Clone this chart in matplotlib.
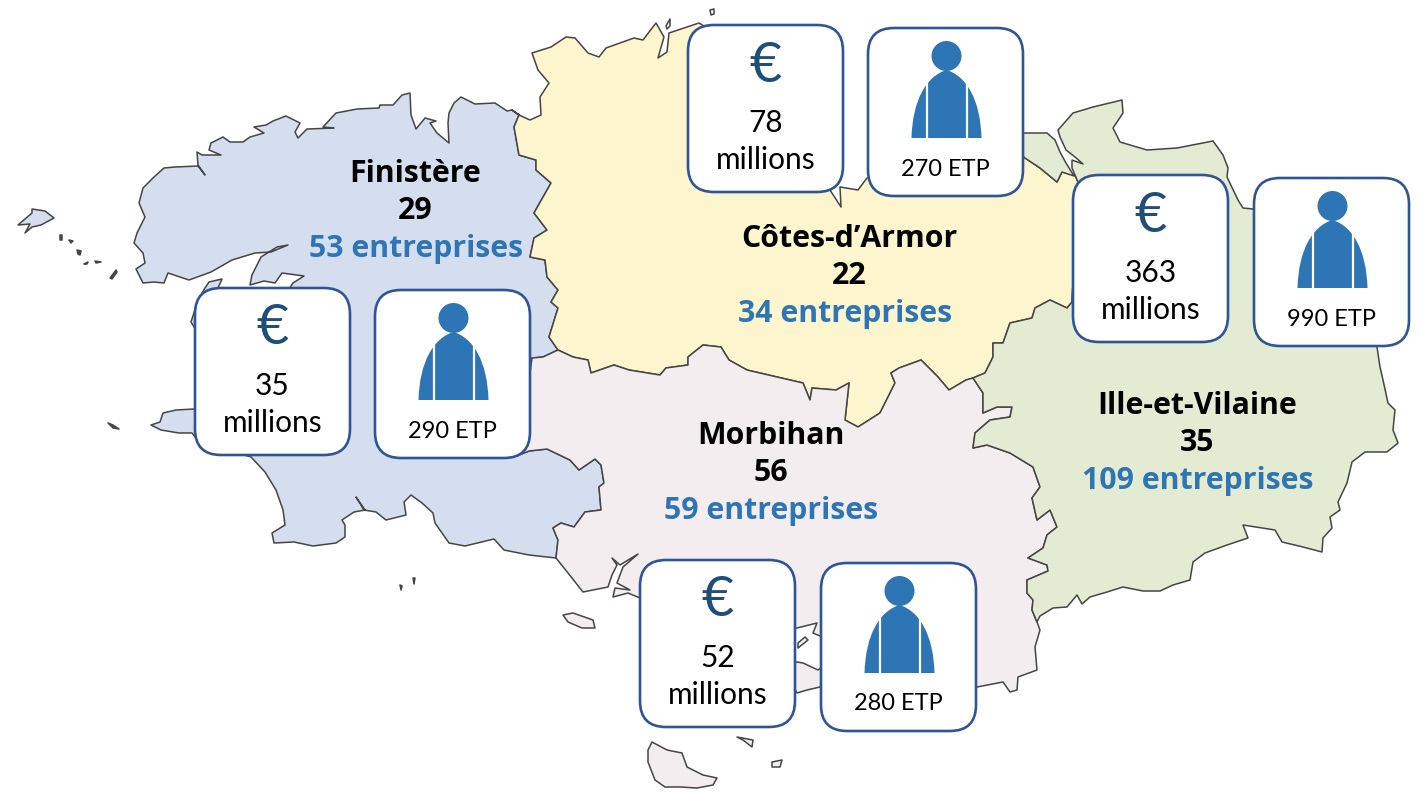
#!/usr/bin/env python3
import matplotlib
matplotlib.use("Agg")
import matplotlib.pyplot as plt
from matplotlib.patches import FancyBboxPatch, Circle, PathPatch
from matplotlib.path import Path

# -------------------------------
# Data
# -------------------------------
departments = ["Finistère", "Côtes-d’Armor", "Morbihan", "Ille-et-Vilaine"]
dept_codes = ["29", "22", "56", "35"]
companies = ["53 entreprises", "34 entreprises", "59 entreprises", "109 entreprises"]
euro_values = ["35", "78", "52", "363"]
etp_values = ["290 ETP", "270 ETP", "280 ETP", "990 ETP"]

# map outlines (pixel coordinates)
fin_coast = [(512,110),(507,111),(495,103),(475,104),(461,97),(454,103),(449,113),(448,123),(449,143),
    (437,133),(430,123),(436,121),(425,118),(416,129),(411,115),(410,93),(402,95),(393,105),(380,105),
    (379,108),(357,109),(336,113),(323,127),(334,128),(307,129),(298,138),(295,132),(300,123),(286,116),
    (273,121),(266,125),(254,127),(264,133),(250,137),(243,142),(230,142),(223,137),(211,143),(209,150),
    (221,155),(202,155),(197,152),(198,165),(205,175),(198,166),(175,167),(164,168),(154,177),(143,188),
    (139,203),(145,217),(137,233),(134,243),(143,253),(145,263),(136,269),(143,283),(154,282),(164,283),
    (168,273),(189,280),(211,272),(232,260),(255,253),(271,252),(288,245),(277,247),(261,257),(252,275),
    (250,285),(264,281),(275,283),(282,273),(304,276),(293,283),(285,295),(225,295),(218,288),(222,279),
    (209,282),(205,288),(198,300),(191,322),(205,345),(205,400),(194,409),(176,410),(163,413),(160,422),
    (151,425),(161,430),(179,433),(192,433),(195,437),(210,445),(251,457),(265,472),(276,490),(283,510),
    (285,525),(272,533),(274,543),(294,542),(313,546),(336,543),(345,537),(345,525),(342,520),(354,512),
    (365,510),(356,497),(364,510),(376,512),(386,520),(406,515),(404,502),(411,495),(422,503),(433,513),
    (435,523),(449,543),(465,546),(494,539),(504,550),(529,555),(556,558)]
fin_mor = [(556,558),(558,540),(553,528),(561,523),(574,527),(585,512),(601,510),(599,487),(604,483),
    (601,465),(595,459),(579,470),(570,460),(547,449),(529,451),(519,455),(532,358),(543,357),(558,350)]
fin_cot = [(558,350),(549,337),(558,308),(551,302),(558,290),(547,277),(545,260),(530,257),(534,238),
    (547,230),(534,213),(551,183),(536,170),(536,160),(519,155),(514,127),(519,115),(512,110)]
cot_coast = [(512,110),(519,115),(530,120),(541,115),(540,97),(549,83),(538,70),(532,53),(551,47),(566,37),
    (575,38),(588,53),(599,57),(606,48),(634,38),(643,40),(656,23),(664,37),(658,58),(667,52),(669,33),
    (699,23),(760,60),(830,190),(841,207),(840,187),(858,190),(867,178),(950,150),(1015,150),(1025,158),
    (1040,168),(1057,182),(1062,172),(1075,175),(1078,182)]
cot_ille = [(1078,182),(1072,302),(1067,308),(1050,300),(1035,308),(1032,318),(1010,323),(1003,343),
    (993,343),(993,357),(985,373),(973,378)]
cot_mor = [(558,350),(573,357),(588,360),(591,373),(614,365),(629,370),(660,375),(666,368),(688,365),
    (688,357),(703,345),(721,347),(729,360),(747,370),(777,377),(803,383),(810,400),(812,388),(836,390),
    (849,383),(845,420),(858,427),(880,413),(895,383),(891,373),(899,368),(921,360),(938,377),(949,390),
    (966,380),(973,378)]
ille_coast = [(1078,182),(1072,168),(1072,160),(1083,164),(1075,157),(1066,150),(1060,137),(1058,130),
    (1073,113),(1093,107),(1122,100),
    (1123,113),(1113,128),(1120,142),(1147,150),(1177,148),(1213,141),(1223,155),(1228,168),(1227,177),
    (1238,200),(1243,208),(1253,209),(1300,260),(1377,347),(1380,367),(1383,380),(1388,403),(1395,410),
    (1393,430),(1398,443),(1387,452),(1365,452),(1352,462),(1347,483),(1338,502),(1340,510),(1330,517),
    (1332,528),(1323,538),(1322,552),(1303,547),(1282,542),(1275,530),(1243,525),(1248,538),(1227,545),
    (1205,553),(1193,562),(1190,580),(1173,585),(1160,591),(1143,591),(1123,587),(1107,592),(1090,597),
    (1082,604),(1077,595),(1067,607),(1053,608),(1040,616),(1037,622)]
ille_mor = [(1037,622),(1032,610),(1033,600),(1027,593),(1027,580),(1048,571),(1047,565),(1028,558),
    (1043,548),(1047,535),(1057,527),(1050,510),(1037,520),(1032,498),(1040,487),(1033,467),(1010,453),
    (987,445),(973,448),(975,433),(990,420),(1010,417),(1012,407),(997,407),(983,413),(983,393),(973,378)]
mor_coast = [(1037,622),(1040,630),(1035,647),(1037,670),(1018,677),(1017,690),(1010,692),(1003,682),
    (977,687),(900,695),(820,687),(807,690),(797,693),(790,680),(790,664),(797,662),(803,663),(818,670),
    (830,660),(830,640),(820,636),(813,633),(817,623),(797,628),(790,630),(700,610),(640,598),(628,593),
    (613,597),(615,588),(630,590),(617,583),(623,567),(638,554),(620,565),(612,558),(617,565),(612,575),
    (608,587),(583,592),(568,573),(556,558)]
rance_bank = [(1015,133),(1047,133),(1055,140),(1060,152),(1066,163),(1074,176),(1062,172),(1057,182),
    (1040,168),(1025,158),(1015,150)]

belle_ile = [(652,742),(648,750),(648,762),(655,780),(665,787),(680,787),(697,788),(713,785),(717,778),
    (703,775),(687,767),(682,753),(667,750)]
groix = [(563,615),(573,613),(593,620),(595,628),(582,628),(568,622)]
houat = [(737,737),(753,740),(752,747),(743,740)]
hoedic = [(772,762),(782,760),(780,767),(772,767)]
ile_moines = [(798,643),(805,637),(808,640),(798,648)]
ouessant = [(18,225),(32,213),(32,209),(45,211),(54,218),(41,225),(32,227),(25,233),(30,224)]
white_islets = [[(666,26),(670,19),(670,26),(667,29)],[(710,10),(714,9),(714,14),(711,15)]]
rocks = [[(60,235),(62,235),(62,240),(60,240)],[(69,240),(73,241),(71,243)],[(77,250),(81,251),(80,255),(78,254)],
    [(84,264),(88,262),(87,264)],[(95,261),(101,262),(96,263)],[(110,278),(116,270),(117,272),(112,279)],
    [(108,423),(113,425),(119,429),(113,428)],[(400,585),(402,586),(401,590)],[(413,578),(415,578),(414,584)]]

# -------------------------------
# Layout (pixels)
# -------------------------------
FILLS = ["#d5deee", "#fdf5cd", "#f4edef", "#e4ebd3"]
LINE = "#454545"
BOX_EDGE = "#2f5597"
BLUE = "#2e75b6"
DARK = "#1f4e79"

label_x = [415, 849, 771, 1197]
label_y = [174, 239, 436, 406]
companies_x = [416, 845, 771, 1198]
euro_boxes = [(195, 288), (688, 25), (640, 560), (1073, 175)]
etp_boxes = [(375, 290), (868, 28), (821, 563), (1254, 178)]
euro_h = 167
etp_h = 168
box_w = 155

fig = plt.figure(figsize=(14.21, 7.93), dpi=100)
ax = fig.add_axes([0, 0, 1, 1])
ax.set_xlim(0, 1421)
ax.set_ylim(793, 0)
ax.axis("off")


def region(pts, color):
    xs = [p[0] for p in pts]
    ys = [p[1] for p in pts]
    ax.fill(xs, ys, facecolor=color, edgecolor=LINE, linewidth=1.1, joinstyle="round", zorder=2)


region(fin_coast + fin_mor + fin_cot, FILLS[0])
region(cot_coast + cot_ille + cot_mor[::-1] + fin_cot, FILLS[1])
region(cot_mor + ille_mor[::-1] + mor_coast + fin_mor, FILLS[2])
region(ille_coast + ille_mor + cot_ille[::-1], FILLS[3])
region(rance_bank, FILLS[3])

region(ouessant, FILLS[0])
for isl in [belle_ile, groix, houat, hoedic, ile_moines]:
    region(isl, FILLS[2])
for isl in white_islets:
    region(isl, "white")
for isl in rocks:
    region(isl, LINE)

# -------------------------------
# Labels
# -------------------------------
for i in range(4):
    t = dict(ha="center", va="center", family="Open Sans", fontweight="bold", fontsize=21.8, zorder=5)
    ax.text(label_x[i], label_y[i], departments[i], color="black", **t)
    ax.text(label_x[i], label_y[i] + 37, dept_codes[i], color="black", **t)
    ax.text(companies_x[i], label_y[i] + 75, companies[i], color=BLUE, **t)


def box(x, y, h):
    ax.add_patch(FancyBboxPatch((x + 24, y + 24), box_w - 48, h - 48, boxstyle="round,pad=24,rounding_size=26",
                                facecolor="white", edgecolor=BOX_EDGE, linewidth=1.9, zorder=3))


def person(cx, top):
    ax.add_patch(Circle((cx, top + 28), 15, facecolor=BLUE, edgecolor="none", zorder=4))
    bottom = top + 110
    verts = [(cx - 35, bottom), (cx - 34, top + 72), (cx - 20, top + 48), (cx, top + 42),
             (cx + 20, top + 48), (cx + 34, top + 72), (cx + 35, bottom), (cx - 35, bottom)]
    codes = [Path.MOVETO, Path.CURVE4, Path.CURVE4, Path.CURVE4, Path.CURVE4, Path.CURVE4, Path.CURVE4, Path.CLOSEPOLY]
    ax.add_patch(PathPatch(Path(verts, codes), facecolor=BLUE, edgecolor="none", zorder=4))
    for dx in (-20, 20):
        ax.plot([cx + dx, cx + dx], [top + 54, bottom], color="white", lw=1.6, zorder=4.5, solid_capstyle="butt")


for i in range(4):
    x, y = euro_boxes[i]
    box(x, y, euro_h)
    cx = x + box_w / 2
    ax.text(cx, y + 41, "€", fontsize=40, color=DARK, ha="center", va="center", family="Lato", zorder=5)
    ax.text(cx, y + 98, euro_values[i], fontsize=21.5, color="black", ha="center", va="center", family="Lato", zorder=5)
    ax.text(cx, y + 135, "millions", fontsize=21.5, color="black", ha="center", va="center", family="Lato", zorder=5)

    x, y = etp_boxes[i]
    box(x, y, etp_h)
    cx = x + box_w / 2
    person(cx + 1, y)
    ax.text(cx, y + 141, etp_values[i], fontsize=17, color="black", ha="center", va="center", family="Lato", zorder=5)

fig.savefig("out.png", dpi=100)
